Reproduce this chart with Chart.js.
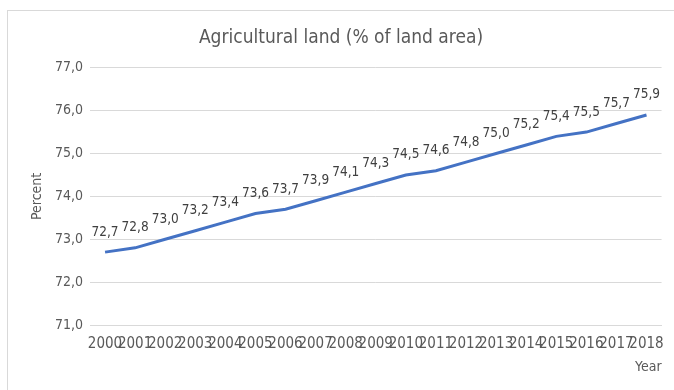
<!DOCTYPE html>
<html>
<head>
<meta charset="utf-8">
<script src="https://cdn.jsdelivr.net/npm/chart.js@4"></script>
<style>
  html, body { margin: 0; padding: 0; background: #fff; }
  #wrap { position: relative; width: 674px; height: 390px; overflow: hidden; }
  #frame { position: absolute; left: 7px; top: 10px; width: 700px; height: 400px;
           border-left: 1px solid #d9d9d9; border-top: 1px solid #d9d9d9; }
  canvas { position: absolute; left: 0; top: 0; }
</style>
</head>
<body>
<div id="wrap">
  <div id="frame"></div>
  <canvas id="landChart" width="674" height="390"></canvas>
</div>
<script>
// --- DATA ---
const years = ['2000', '2001', '2002', '2003', '2004', '2005', '2006', '2007', '2008', '2009',
               '2010', '2011', '2012', '2013', '2014', '2015', '2016', '2017', '2018'];
const agriLand = [72.7, 72.8, 73.0, 73.2, 73.4, 73.6, 73.7, 73.9, 74.1, 74.3,
                  74.5, 74.6, 74.8, 75.0, 75.2, 75.4, 75.5, 75.7, 75.9];
const yMin = 71, yMax = 77, yStep = 1;

const FONT = '"Liberation Sans Narrow", "DejaVu Sans Condensed", "Liberation Sans", sans-serif';
const fmt = v => Number(v).toFixed(1).replace('.', ',');

// simple value labels above each point
const valueLabels = {
    id: 'valueLabels',
    afterDatasetsDraw(chart) {
        const ctx = chart.ctx;
        const meta = chart.getDatasetMeta(0);
        ctx.save();
        ctx.font = '13.5px ' + FONT;
        ctx.fillStyle = '#404040';
        ctx.textAlign = 'center';
        ctx.textBaseline = 'middle';
        meta.data.forEach((pt, i) => {
            ctx.fillText(fmt(agriLand[i]), pt.x, pt.y - 20);
        });
        ctx.restore();
    }
};

const ctx = document.getElementById('landChart').getContext('2d');
new Chart(ctx, {
    type: 'line',
    data: {
        labels: years,
        datasets: [{
            label: 'Agricultural land',
            data: agriLand,
            borderColor: '#4472c4',
            borderWidth: 3,
            pointRadius: 0,
            tension: 0,
            fill: false
        }]
    },
    options: {
        responsive: false,
        animation: false,
        layout: { padding: { left: 20, right: 12, top: 0, bottom: 10 } },
        plugins: {
            legend: { display: false },
            tooltip: { enabled: false },
            title: {
                display: true,
                text: 'Agricultural land (% of land area)',
                color: '#595959',
                font: { family: FONT, size: 19, weight: 'normal' },
                padding: { top: 27, bottom: 18 }
            }
        },
        scales: {
            x: {
                offset: true,
                grid: { display: false, drawTicks: false },
                border: { display: true, color: '#d9d9d9' },
                ticks: {
                    autoSkip: false, maxRotation: 0, minRotation: 0,
                    padding: 10, color: '#595959',
                    font: { family: FONT, size: 15 }
                },
                title: {
                    display: true, text: 'Year', align: 'end', color: '#595959',
                    font: { family: FONT, size: 14 },
                    padding: { top: 0, bottom: 4 }
                },
                afterFit(s) { s.height = 55; }
            },
            y: {
                min: yMin, max: yMax,
                grid: { color: '#d9d9d9', drawTicks: false },
                border: { display: false },
                ticks: {
                    stepSize: yStep, padding: 7, color: '#595959',
                    font: { family: FONT, size: 14 },
                    callback: v => fmt(v)
                },
                title: {
                    display: true, text: 'Percent', color: '#595959',
                    font: { family: FONT, size: 14 },
                    padding: { top: 9, bottom: 0 }
                },
                afterFit(s) { s.width = 70; }
            }
        }
    },
    plugins: [valueLabels]
});
</script>
</body>
</html>
